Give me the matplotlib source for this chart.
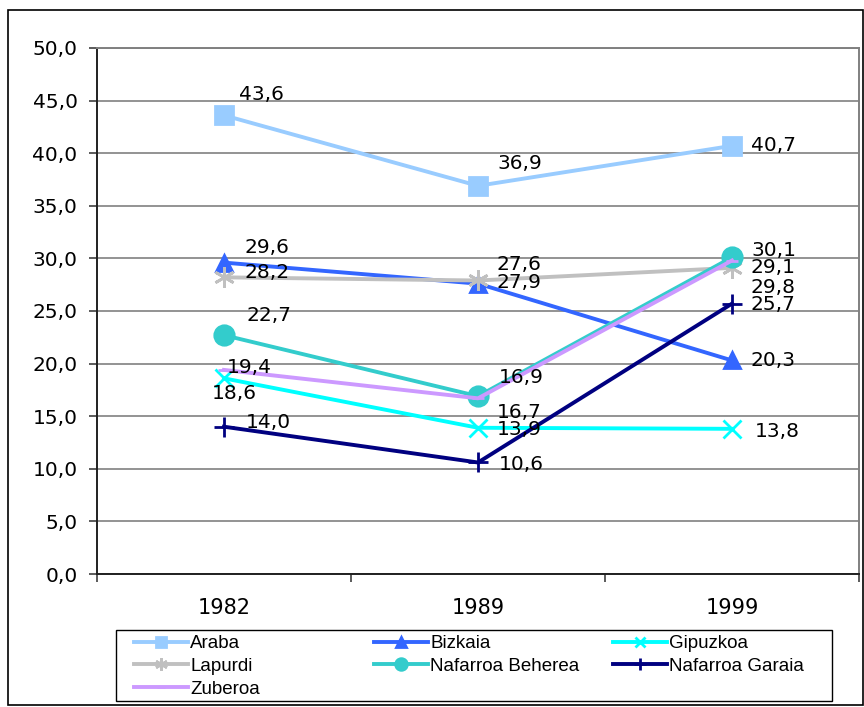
import matplotlib
matplotlib.use("Agg")
import matplotlib.pyplot as plt
from matplotlib.patches import Rectangle

years = ["1982", "1989", "1999"]
series_names = ["Araba", "Bizkaia", "Gipuzkoa", "Lapurdi",
                "Nafarroa Beherea", "Nafarroa Garaia", "Zuberoa"]
araba = [43.6, 36.9, 40.7]
bizkaia = [29.6, 27.6, 20.3]
gipuzkoa = [18.6, 13.9, 13.8]
lapurdi = [28.2, 27.9, 29.1]
nafarroa_beherea = [22.7, 16.9, 30.1]
nafarroa_garaia = [14.0, 10.6, 25.7]
zuberoa = [19.4, 16.7, 29.8]
series_values = [araba, bizkaia, gipuzkoa, lapurdi,
                 nafarroa_beherea, nafarroa_garaia, zuberoa]
y_ticks = [0, 5, 10, 15, 20, 25, 30, 35, 40, 45, 50]

# styling
colors = ["#99CCFF", "#3366FF", "#00FFFF", "#C0C0C0", "#33CCCC", "#000080", "#CC99FF"]
markers = ["s", "^", "x", (6, 2, 0), "o", "+", "_"]
marker_sizes = [13, 11, 13, 15, 14, 14, 9]
# label offsets (pixels) per series / point, to mimic the manual placement
label_offsets = [
    [(15, 21), (19, 22), (19, 0)],
    [(20, 15), (19, 19), (19, 0)],
    [(-12, -15), (19, -2), (23, -3)],
    [(20, 5), (19, -2), (19, 0)],
    [(22, 20), (21, 19), (19, 7)],
    [(22, 4), (21, -2), (19, -1)],
    [(3, 2), (19, -14), (19, -27)],
]

W, H = 864, 707
fig = plt.figure(figsize=(W / 100, H / 100), dpi=100)
ax = fig.add_axes([97 / W, (H - 574) / H, 762 / W, 526 / H])

x = list(range(len(years)))
handles = []
for name, vals, c, m, ms in zip(series_names, series_values, colors, markers, marker_sizes):
    line, = ax.plot(x, vals, color=c, lw=2.8, marker=m, ms=ms, mew=2,
                    mec=c, mfc=c, label=name, clip_on=False)
    handles.append(line)

for vals, offs in zip(series_values, label_offsets):
    for xi, v, (dx, dy) in zip(x, vals, offs):
        ax.annotate(f"{v:.1f}".replace(".", ","), (xi, v), xytext=(dx, dy),
                    textcoords="offset pixels", ha="left", va="center",
                    fontsize=14.5, color="black", zorder=10)

ax.set_xlim(-0.5, 2.5)
ax.set_ylim(0, 50)
ax.set_yticks(y_ticks)
ax.set_yticklabels([f"{t:.1f}".replace(".", ",") for t in y_ticks], fontsize=14.5)
ax.yaxis.grid(True, color="#808080", lw=1.2)
ax.set_axisbelow(True)

ax.set_xticks([-0.5, 0.5, 1.5, 2.5])
ax.set_xticklabels([])
ax.set_xticks(x, minor=True)
ax.set_xticklabels(years, minor=True, fontsize=15)
ax.tick_params(axis="x", which="major", direction="out", length=6, width=1.2, color="#404040")
ax.tick_params(axis="x", which="minor", length=0, pad=17)
ax.tick_params(axis="y", direction="out", length=6, width=1.2, color="#404040", pad=8)

for side in ["left", "bottom"]:
    ax.spines[side].set_color("#202020")
    ax.spines[side].set_linewidth(1.4)
for side in ["top", "right"]:
    ax.spines[side].set_color("#808080")
    ax.spines[side].set_linewidth(1.4)

# outer chart border
fig.patches.append(Rectangle((8 / W, 1 - 705 / H), 855 / W, 695 / H,
                             transform=fig.transFigure, fill=False,
                             edgecolor="black", lw=1.2))
# legend box
fig.patches.append(Rectangle((116 / W, 1 - 701 / H), 716 / W, 71 / H,
                             transform=fig.transFigure, fill=False,
                             edgecolor="black", lw=1.0))

# legend in three fixed-width columns, filled row by row
columns = [[0, 3, 6], [1, 4], [2, 5]]
column_x = [134, 374, 613]
for idx, cx in zip(columns, column_x):
    fig.legend(handles=[handles[i] for i in idx], loc="upper left",
               bbox_to_anchor=(cx / W, 1 - 635 / H), ncol=1, frameon=False,
               prop={"family": "Liberation Sans", "size": 13.5},
               handlelength=2.9, handletextpad=0.1,
               labelspacing=0.3, borderpad=0, borderaxespad=0, markerscale=0.6)

fig.savefig("out.png", dpi=100)
